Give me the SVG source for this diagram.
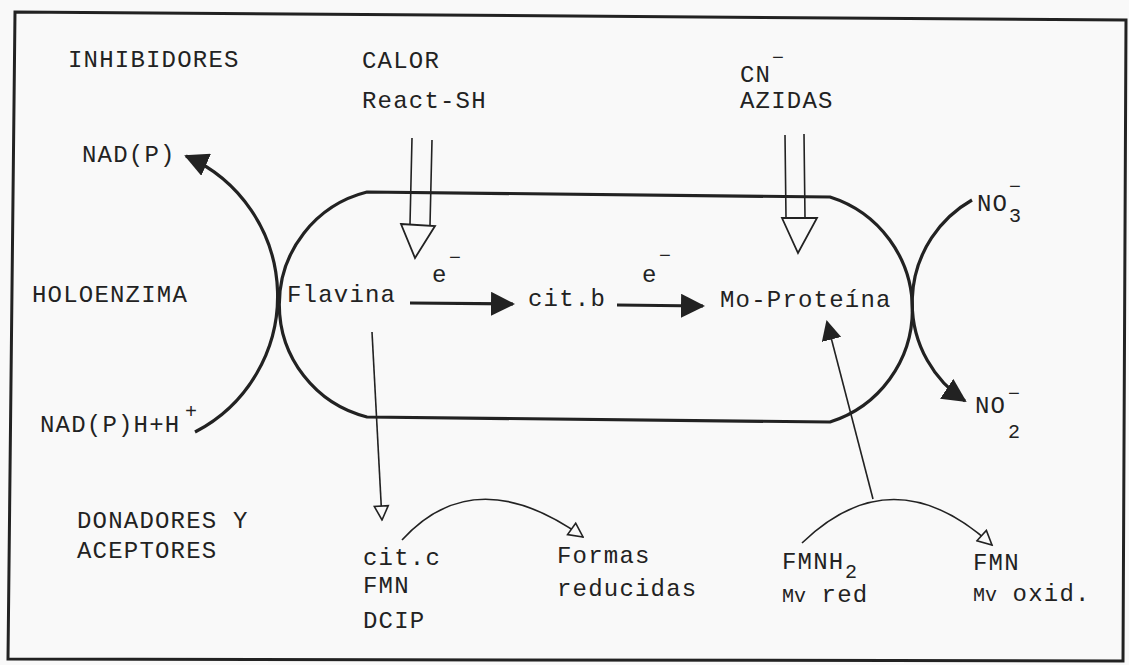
<svg xmlns="http://www.w3.org/2000/svg" width="1129" height="665" viewBox="0 0 1129 665">
<style>
text{font-family:"Liberation Mono","Courier New",monospace;font-size:24px;letter-spacing:1.2px;fill:#222}
.s{font-size:20px;letter-spacing:0}
.mv{font-size:20px;letter-spacing:0}
.thick{fill:none;stroke:#222;stroke-width:3.2}
.thin{fill:none;stroke:#222;stroke-width:1.6}
.hollow{fill:#f9f9f9;stroke:#222;stroke-width:1.8}
</style>
<defs>
<marker id="fa" viewBox="0 0 24 24" refX="22" refY="12" markerWidth="24" markerHeight="24" markerUnits="userSpaceOnUse" orient="auto">
<path d="M0,0 L24,12 L0,24 z" fill="#222"/>
</marker>
<marker id="fs" viewBox="0 0 20 20" refX="18" refY="10" markerWidth="20" markerHeight="20" markerUnits="userSpaceOnUse" orient="auto">
<path d="M0,0 L20,10 L0,20 z" fill="#222"/>
</marker>
<marker id="ha" viewBox="0 0 17 17" refX="15.5" refY="8.5" markerWidth="17" markerHeight="17" markerUnits="userSpaceOnUse" orient="auto">
<path d="M1.5,1.5 L15.5,8.5 L1.5,15.5 z" fill="#f9f9f9" stroke="#222" stroke-width="1.6"/>
</marker>
</defs>
<rect x="0" y="0" width="1129" height="665" fill="#f9f9f9"/>
<polygon points="15,12 1126,20 1123,661 8,659" fill="none" stroke="#222" stroke-width="3"/>

<g id="enzima">
<path class="thick" d="M367,192 L830,197 A118,118 0 0 1 830,422 L367,417 A116,116 0 0 1 367,192 Z"/>
</g>

<g id="connectors">
<path class="thick" d="M195,432 A153,153 0 0 0 186,156" marker-end="url(#fa)"/>
<path class="thick" d="M972,200 A118,118 0 0 0 965,401" marker-end="url(#fa)"/>
<path class="thick" d="M410,303 L513,304" marker-end="url(#fa)"/>
<path class="thick" d="M617,305 L703,306" marker-end="url(#fa)"/>
<path class="thin" d="M372,332 L382,520" marker-end="url(#ha)"/>
<path class="thin" d="M402,540 Q475,460 583,537" marker-end="url(#ha)"/>
<path class="thin" d="M802,543 Q893,455 992,545" marker-end="url(#ha)"/>
<path class="thin" d="M873,499 L827,322" marker-end="url(#fs)"/>
<g id="calor-arrow">
<path class="thin" d="M412,138 L410,224 M432,140 L430,225"/>
<polygon class="hollow" points="401,224 435,226 415,258"/>
</g>
<g id="cn-arrow">
<path class="thin" d="M785,135 L786,218 M804,134 L805,218"/>
<polygon class="hollow" points="782,218 817,218 798,253"/>
</g>
</g>

<g id="inhibidores"><text x="68" y="67">INHIBIDORES</text></g>
<g id="calor"><text x="362" y="68">CALOR</text><text x="362" y="108">React-SH</text></g>
<g id="cn"><text x="740" y="82">CN</text><text class="s" x="772" y="64">−</text><text x="740" y="108">AZIDAS</text></g>
<g id="nadp"><text x="82" y="162">NAD(P)</text></g>
<g id="no3"><text x="977" y="211">NO</text><text class="s" x="1009" y="193">−</text><text class="s" x="1009" y="222">3</text></g>
<g id="holoenzima"><text x="32" y="302">HOLOENZIMA</text></g>
<g id="flavina"><text x="287" y="302">Flavina</text></g>
<g id="e1"><text x="432" y="282">e</text><text class="s" x="449" y="264">−</text></g>
<g id="citb"><text x="528" y="306">cit.b</text></g>
<g id="e2"><text x="642" y="282">e</text><text class="s" x="659" y="262">−</text></g>
<g id="moproteina"><text x="720" y="307">Mo-Proteína</text></g>
<g id="no2"><text x="975" y="413">NO</text><text class="s" x="1008" y="400">−</text><text class="s" x="1008" y="438">2</text></g>
<g id="nadph"><text x="40" y="432">NAD(P)H+H</text><text class="s" x="185" y="418">+</text></g>
<g id="donadores"><text x="77" y="528">DONADORES Y</text><text x="77" y="558">ACEPTORES</text></g>
<g id="citc"><text x="363" y="565">cit.c</text><text x="363" y="593">FMN</text><text x="363" y="628">DCIP</text></g>
<g id="formas"><text x="557" y="563">Formas</text><text x="557" y="596">reducidas</text></g>
<g id="fmnh2"><text x="782" y="569">FMNH</text><text class="s" x="845" y="578">2</text><text x="782" y="602"><tspan class="mv">Mv</tspan> red</text></g>
<g id="fmn"><text x="973" y="570">FMN</text><text x="973" y="601"><tspan class="mv">Mv</tspan> oxid.</text></g>
</svg>
